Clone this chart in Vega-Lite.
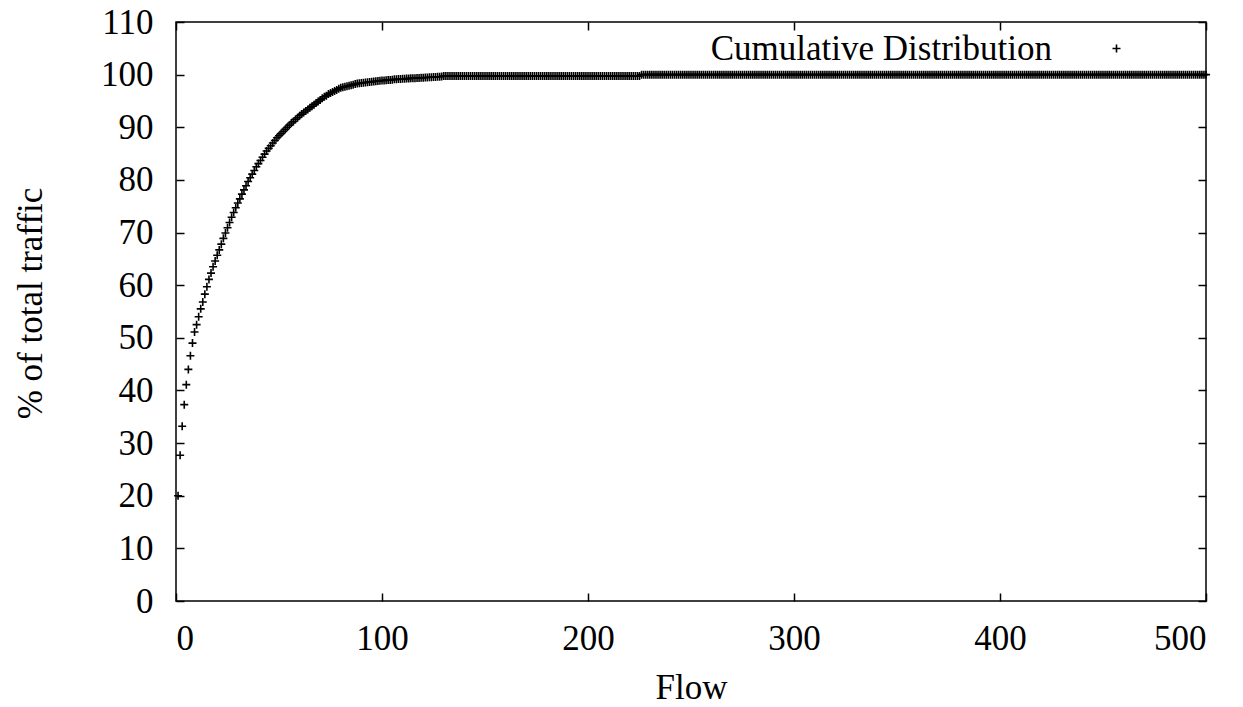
{
"$schema": "https://vega.github.io/schema/vega-lite/v6.json",
"width": 1030, "height": 579,
"autosize": {"type": "none"},
"padding": {"left": 176, "top": 22, "right": 37, "bottom": 106},
"background": "white",
"config": {
  "font": "Liberation Serif",
  "view": {"stroke": "#000", "strokeWidth": 1.5},
  "axis": {"grid": false, "domain": false, "tickColor": "#000", "tickSize": -8, "tickWidth": 1.5, "labelColor": "#000", "labelFont": "Liberation Serif", "labelFontSize": 35, "titleFont": "Liberation Serif", "titleFontSize": 35, "titleFontWeight": "normal", "titleColor": "#000"}
},
"data": {"values": [
{"flow":1,"pct":20},{"flow":2,"pct":27.7},{"flow":3,"pct":33.2},{"flow":4,"pct":37.3},{"flow":5,"pct":41.1},{"flow":6,"pct":44.0},{"flow":7,"pct":46.6},{"flow":8,"pct":49.0},{"flow":9,"pct":51.1},{"flow":10,"pct":52.5},
{"flow":11,"pct":54.0},{"flow":12,"pct":55.5},{"flow":13,"pct":56.8},{"flow":14,"pct":58.3},{"flow":15,"pct":59.7},{"flow":16,"pct":61.1},{"flow":17,"pct":62.3},{"flow":18,"pct":63.5},{"flow":19,"pct":64.6},{"flow":20,"pct":65.7},
{"flow":21,"pct":66.7},{"flow":22,"pct":67.8},{"flow":23,"pct":68.9},{"flow":24,"pct":69.9},{"flow":25,"pct":70.9},{"flow":26,"pct":71.9},{"flow":27,"pct":72.9},{"flow":28,"pct":73.8},{"flow":29,"pct":74.7},{"flow":30,"pct":75.6},
{"flow":31,"pct":76.4},{"flow":32,"pct":77.3},{"flow":33,"pct":78.1},{"flow":34,"pct":78.9},{"flow":35,"pct":79.7},{"flow":36,"pct":80.4},{"flow":37,"pct":81.1},{"flow":38,"pct":81.8},{"flow":39,"pct":82.5},{"flow":40,"pct":83.1},
{"flow":41,"pct":83.7},{"flow":42,"pct":84.3},{"flow":43,"pct":84.9},{"flow":44,"pct":85.5},{"flow":45,"pct":86.0},{"flow":46,"pct":86.5},{"flow":47,"pct":87.0},{"flow":48,"pct":87.5},{"flow":49,"pct":88.0},{"flow":50,"pct":88.4},
{"flow":51,"pct":88.8},{"flow":52,"pct":89.2},{"flow":53,"pct":89.6},{"flow":54,"pct":90.0},{"flow":55,"pct":90.4},{"flow":56,"pct":90.8},{"flow":57,"pct":91.1},{"flow":58,"pct":91.5},{"flow":59,"pct":91.8},{"flow":60,"pct":92.2},
{"flow":61,"pct":92.5},{"flow":62,"pct":92.8},{"flow":63,"pct":93.1},{"flow":64,"pct":93.4},{"flow":65,"pct":93.7},{"flow":66,"pct":94.0},{"flow":67,"pct":94.3},{"flow":68,"pct":94.6},{"flow":69,"pct":94.9},{"flow":70,"pct":95.2},
{"flow":71,"pct":95.5},{"flow":72,"pct":95.8},{"flow":73,"pct":96.0},{"flow":74,"pct":96.3},{"flow":75,"pct":96.5},{"flow":76,"pct":96.7},{"flow":77,"pct":96.9},{"flow":78,"pct":97.1},{"flow":79,"pct":97.3},{"flow":80,"pct":97.5},
{"flow":81,"pct":97.6},{"flow":82,"pct":97.7},{"flow":83,"pct":97.8},{"flow":84,"pct":97.9},{"flow":85,"pct":98.0},{"flow":86,"pct":98.1},{"flow":87,"pct":98.2},{"flow":88,"pct":98.3},{"flow":89,"pct":98.35},{"flow":90,"pct":98.4},
{"flow":91,"pct":98.45},{"flow":92,"pct":98.5},{"flow":93,"pct":98.55},{"flow":94,"pct":98.6},{"flow":95,"pct":98.65},{"flow":96,"pct":98.7},{"flow":97,"pct":98.75},{"flow":98,"pct":98.8},{"flow":99,"pct":98.85},{"flow":100,"pct":98.9},
{"flow":101,"pct":98.9},{"flow":102,"pct":98.95},{"flow":103,"pct":99.0},{"flow":104,"pct":99.0},{"flow":105,"pct":99.05},{"flow":106,"pct":99.1},{"flow":107,"pct":99.1},{"flow":108,"pct":99.15},{"flow":109,"pct":99.15},{"flow":110,"pct":99.2},
{"flow":111,"pct":99.2},{"flow":112,"pct":99.25},{"flow":113,"pct":99.25},{"flow":114,"pct":99.3},{"flow":115,"pct":99.3},{"flow":116,"pct":99.3},{"flow":117,"pct":99.35},{"flow":118,"pct":99.35},{"flow":119,"pct":99.4},{"flow":120,"pct":99.4},
{"flow":121,"pct":99.45},{"flow":122,"pct":99.45},{"flow":123,"pct":99.5},{"flow":124,"pct":99.5},{"flow":125,"pct":99.55},{"flow":126,"pct":99.55},{"flow":127,"pct":99.6},{"flow":128,"pct":99.6},{"flow":129,"pct":99.65},{"flow":130,"pct":99.75},
{"flow":131,"pct":99.75},{"flow":132,"pct":99.75},{"flow":133,"pct":99.75},{"flow":134,"pct":99.75},{"flow":135,"pct":99.75},{"flow":136,"pct":99.75},{"flow":137,"pct":99.75},{"flow":138,"pct":99.75},{"flow":139,"pct":99.75},{"flow":140,"pct":99.75},
{"flow":141,"pct":99.75},{"flow":142,"pct":99.75},{"flow":143,"pct":99.75},{"flow":144,"pct":99.75},{"flow":145,"pct":99.75},{"flow":146,"pct":99.75},{"flow":147,"pct":99.75},{"flow":148,"pct":99.75},{"flow":149,"pct":99.75},{"flow":150,"pct":99.75},
{"flow":151,"pct":99.75},{"flow":152,"pct":99.75},{"flow":153,"pct":99.75},{"flow":154,"pct":99.75},{"flow":155,"pct":99.75},{"flow":156,"pct":99.75},{"flow":157,"pct":99.75},{"flow":158,"pct":99.75},{"flow":159,"pct":99.75},{"flow":160,"pct":99.75},
{"flow":161,"pct":99.75},{"flow":162,"pct":99.75},{"flow":163,"pct":99.75},{"flow":164,"pct":99.75},{"flow":165,"pct":99.75},{"flow":166,"pct":99.75},{"flow":167,"pct":99.75},{"flow":168,"pct":99.75},{"flow":169,"pct":99.75},{"flow":170,"pct":99.75},
{"flow":171,"pct":99.75},{"flow":172,"pct":99.75},{"flow":173,"pct":99.75},{"flow":174,"pct":99.75},{"flow":175,"pct":99.75},{"flow":176,"pct":99.75},{"flow":177,"pct":99.75},{"flow":178,"pct":99.75},{"flow":179,"pct":99.75},{"flow":180,"pct":99.75},
{"flow":181,"pct":99.75},{"flow":182,"pct":99.75},{"flow":183,"pct":99.75},{"flow":184,"pct":99.75},{"flow":185,"pct":99.75},{"flow":186,"pct":99.75},{"flow":187,"pct":99.75},{"flow":188,"pct":99.75},{"flow":189,"pct":99.75},{"flow":190,"pct":99.75},
{"flow":191,"pct":99.75},{"flow":192,"pct":99.75},{"flow":193,"pct":99.75},{"flow":194,"pct":99.75},{"flow":195,"pct":99.75},{"flow":196,"pct":99.75},{"flow":197,"pct":99.75},{"flow":198,"pct":99.75},{"flow":199,"pct":99.75},{"flow":200,"pct":99.75},
{"flow":201,"pct":99.75},{"flow":202,"pct":99.75},{"flow":203,"pct":99.75},{"flow":204,"pct":99.75},{"flow":205,"pct":99.75},{"flow":206,"pct":99.75},{"flow":207,"pct":99.75},{"flow":208,"pct":99.75},{"flow":209,"pct":99.75},{"flow":210,"pct":99.75},
{"flow":211,"pct":99.75},{"flow":212,"pct":99.75},{"flow":213,"pct":99.75},{"flow":214,"pct":99.75},{"flow":215,"pct":99.75},{"flow":216,"pct":99.75},{"flow":217,"pct":99.75},{"flow":218,"pct":99.75},{"flow":219,"pct":99.75},{"flow":220,"pct":99.75},
{"flow":221,"pct":99.75},{"flow":222,"pct":99.75},{"flow":223,"pct":99.75},{"flow":224,"pct":99.75},{"flow":225,"pct":99.75},{"flow":226,"pct":100},{"flow":227,"pct":100},{"flow":228,"pct":100},{"flow":229,"pct":100},{"flow":230,"pct":100},
{"flow":231,"pct":100},{"flow":232,"pct":100},{"flow":233,"pct":100},{"flow":234,"pct":100},{"flow":235,"pct":100},{"flow":236,"pct":100},{"flow":237,"pct":100},{"flow":238,"pct":100},{"flow":239,"pct":100},{"flow":240,"pct":100},
{"flow":241,"pct":100},{"flow":242,"pct":100},{"flow":243,"pct":100},{"flow":244,"pct":100},{"flow":245,"pct":100},{"flow":246,"pct":100},{"flow":247,"pct":100},{"flow":248,"pct":100},{"flow":249,"pct":100},{"flow":250,"pct":100},
{"flow":251,"pct":100},{"flow":252,"pct":100},{"flow":253,"pct":100},{"flow":254,"pct":100},{"flow":255,"pct":100},{"flow":256,"pct":100},{"flow":257,"pct":100},{"flow":258,"pct":100},{"flow":259,"pct":100},{"flow":260,"pct":100},
{"flow":261,"pct":100},{"flow":262,"pct":100},{"flow":263,"pct":100},{"flow":264,"pct":100},{"flow":265,"pct":100},{"flow":266,"pct":100},{"flow":267,"pct":100},{"flow":268,"pct":100},{"flow":269,"pct":100},{"flow":270,"pct":100},
{"flow":271,"pct":100},{"flow":272,"pct":100},{"flow":273,"pct":100},{"flow":274,"pct":100},{"flow":275,"pct":100},{"flow":276,"pct":100},{"flow":277,"pct":100},{"flow":278,"pct":100},{"flow":279,"pct":100},{"flow":280,"pct":100},
{"flow":281,"pct":100},{"flow":282,"pct":100},{"flow":283,"pct":100},{"flow":284,"pct":100},{"flow":285,"pct":100},{"flow":286,"pct":100},{"flow":287,"pct":100},{"flow":288,"pct":100},{"flow":289,"pct":100},{"flow":290,"pct":100},
{"flow":291,"pct":100},{"flow":292,"pct":100},{"flow":293,"pct":100},{"flow":294,"pct":100},{"flow":295,"pct":100},{"flow":296,"pct":100},{"flow":297,"pct":100},{"flow":298,"pct":100},{"flow":299,"pct":100},{"flow":300,"pct":100},
{"flow":301,"pct":100},{"flow":302,"pct":100},{"flow":303,"pct":100},{"flow":304,"pct":100},{"flow":305,"pct":100},{"flow":306,"pct":100},{"flow":307,"pct":100},{"flow":308,"pct":100},{"flow":309,"pct":100},{"flow":310,"pct":100},
{"flow":311,"pct":100},{"flow":312,"pct":100},{"flow":313,"pct":100},{"flow":314,"pct":100},{"flow":315,"pct":100},{"flow":316,"pct":100},{"flow":317,"pct":100},{"flow":318,"pct":100},{"flow":319,"pct":100},{"flow":320,"pct":100},
{"flow":321,"pct":100},{"flow":322,"pct":100},{"flow":323,"pct":100},{"flow":324,"pct":100},{"flow":325,"pct":100},{"flow":326,"pct":100},{"flow":327,"pct":100},{"flow":328,"pct":100},{"flow":329,"pct":100},{"flow":330,"pct":100},
{"flow":331,"pct":100},{"flow":332,"pct":100},{"flow":333,"pct":100},{"flow":334,"pct":100},{"flow":335,"pct":100},{"flow":336,"pct":100},{"flow":337,"pct":100},{"flow":338,"pct":100},{"flow":339,"pct":100},{"flow":340,"pct":100},
{"flow":341,"pct":100},{"flow":342,"pct":100},{"flow":343,"pct":100},{"flow":344,"pct":100},{"flow":345,"pct":100},{"flow":346,"pct":100},{"flow":347,"pct":100},{"flow":348,"pct":100},{"flow":349,"pct":100},{"flow":350,"pct":100},
{"flow":351,"pct":100},{"flow":352,"pct":100},{"flow":353,"pct":100},{"flow":354,"pct":100},{"flow":355,"pct":100},{"flow":356,"pct":100},{"flow":357,"pct":100},{"flow":358,"pct":100},{"flow":359,"pct":100},{"flow":360,"pct":100},
{"flow":361,"pct":100},{"flow":362,"pct":100},{"flow":363,"pct":100},{"flow":364,"pct":100},{"flow":365,"pct":100},{"flow":366,"pct":100},{"flow":367,"pct":100},{"flow":368,"pct":100},{"flow":369,"pct":100},{"flow":370,"pct":100},
{"flow":371,"pct":100},{"flow":372,"pct":100},{"flow":373,"pct":100},{"flow":374,"pct":100},{"flow":375,"pct":100},{"flow":376,"pct":100},{"flow":377,"pct":100},{"flow":378,"pct":100},{"flow":379,"pct":100},{"flow":380,"pct":100},
{"flow":381,"pct":100},{"flow":382,"pct":100},{"flow":383,"pct":100},{"flow":384,"pct":100},{"flow":385,"pct":100},{"flow":386,"pct":100},{"flow":387,"pct":100},{"flow":388,"pct":100},{"flow":389,"pct":100},{"flow":390,"pct":100},
{"flow":391,"pct":100},{"flow":392,"pct":100},{"flow":393,"pct":100},{"flow":394,"pct":100},{"flow":395,"pct":100},{"flow":396,"pct":100},{"flow":397,"pct":100},{"flow":398,"pct":100},{"flow":399,"pct":100},{"flow":400,"pct":100},
{"flow":401,"pct":100},{"flow":402,"pct":100},{"flow":403,"pct":100},{"flow":404,"pct":100},{"flow":405,"pct":100},{"flow":406,"pct":100},{"flow":407,"pct":100},{"flow":408,"pct":100},{"flow":409,"pct":100},{"flow":410,"pct":100},
{"flow":411,"pct":100},{"flow":412,"pct":100},{"flow":413,"pct":100},{"flow":414,"pct":100},{"flow":415,"pct":100},{"flow":416,"pct":100},{"flow":417,"pct":100},{"flow":418,"pct":100},{"flow":419,"pct":100},{"flow":420,"pct":100},
{"flow":421,"pct":100},{"flow":422,"pct":100},{"flow":423,"pct":100},{"flow":424,"pct":100},{"flow":425,"pct":100},{"flow":426,"pct":100},{"flow":427,"pct":100},{"flow":428,"pct":100},{"flow":429,"pct":100},{"flow":430,"pct":100},
{"flow":431,"pct":100},{"flow":432,"pct":100},{"flow":433,"pct":100},{"flow":434,"pct":100},{"flow":435,"pct":100},{"flow":436,"pct":100},{"flow":437,"pct":100},{"flow":438,"pct":100},{"flow":439,"pct":100},{"flow":440,"pct":100},
{"flow":441,"pct":100},{"flow":442,"pct":100},{"flow":443,"pct":100},{"flow":444,"pct":100},{"flow":445,"pct":100},{"flow":446,"pct":100},{"flow":447,"pct":100},{"flow":448,"pct":100},{"flow":449,"pct":100},{"flow":450,"pct":100},
{"flow":451,"pct":100},{"flow":452,"pct":100},{"flow":453,"pct":100},{"flow":454,"pct":100},{"flow":455,"pct":100},{"flow":456,"pct":100},{"flow":457,"pct":100},{"flow":458,"pct":100},{"flow":459,"pct":100},{"flow":460,"pct":100},
{"flow":461,"pct":100},{"flow":462,"pct":100},{"flow":463,"pct":100},{"flow":464,"pct":100},{"flow":465,"pct":100},{"flow":466,"pct":100},{"flow":467,"pct":100},{"flow":468,"pct":100},{"flow":469,"pct":100},{"flow":470,"pct":100},
{"flow":471,"pct":100},{"flow":472,"pct":100},{"flow":473,"pct":100},{"flow":474,"pct":100},{"flow":475,"pct":100},{"flow":476,"pct":100},{"flow":477,"pct":100},{"flow":478,"pct":100},{"flow":479,"pct":100},{"flow":480,"pct":100},
{"flow":481,"pct":100},{"flow":482,"pct":100},{"flow":483,"pct":100},{"flow":484,"pct":100},{"flow":485,"pct":100},{"flow":486,"pct":100},{"flow":487,"pct":100},{"flow":488,"pct":100},{"flow":489,"pct":100},{"flow":490,"pct":100},
{"flow":491,"pct":100},{"flow":492,"pct":100},{"flow":493,"pct":100},{"flow":494,"pct":100},{"flow":495,"pct":100},{"flow":496,"pct":100},{"flow":497,"pct":100},{"flow":498,"pct":100},{"flow":499,"pct":100},{"flow":500,"pct":100}
]},
"layer": [
  {
    "mark": {"type": "point", "filled": false, "color": "#000", "strokeWidth": 1.6, "size": 64, "opacity": 1},
    "encoding": {
      "x": {"field": "flow", "type": "quantitative", "scale": {"domain": [0, 500], "nice": false},
            "axis": {"orient": "bottom", "values": [0, 100, 200, 300, 400, 500], "title": "Flow", "labelPadding": 28, "labelBaseline": "top", "titleX": 515, "titleY": 86, "titleBaseline": "middle", "titleAnchor": "middle"}},
      "y": {"field": "pct", "type": "quantitative", "scale": {"domain": [0, 110], "nice": false},
            "axis": {"orient": "left", "values": [0, 10, 20, 30, 40, 50, 60, 70, 80, 90, 100, 110], "title": "% of total traffic", "labelPadding": 31, "titleAngle": -90, "titleX": -146, "titleY": 281, "titleBaseline": "middle", "titleAlign": "center"}},
      "shape": {"datum": "Cumulative Distribution", "scale": {"range": ["M-1,0H1M0,-1V1"]},
                "legend": {"title": null, "orient": "none", "legendX": 923, "legendY": 9, "padding": 0, "labelAlign": "right", "labelBaseline": "middle", "labelOffset": -82, "labelFont": "Liberation Serif", "labelFontSize": 35, "labelColor": "#000", "labelLimit": 0, "symbolSize": 64, "symbolStrokeColor": "#000", "symbolFillColor": "transparent", "symbolStrokeWidth": 1.6}}
    }
  },
  {
    "mark": {"type": "point", "opacity": 0},
    "encoding": {
      "x": {"field": "flow", "type": "quantitative", "axis": {"orient": "top", "values": [0, 100, 200, 300, 400, 500], "labels": false, "title": null}},
      "y": {"field": "pct", "type": "quantitative", "axis": {"orient": "right", "values": [0, 10, 20, 30, 40, 50, 60, 70, 80, 90, 100, 110], "labels": false, "title": null}}
    }
  }
],
"resolve": {"axis": {"x": "independent", "y": "independent"}}
}
